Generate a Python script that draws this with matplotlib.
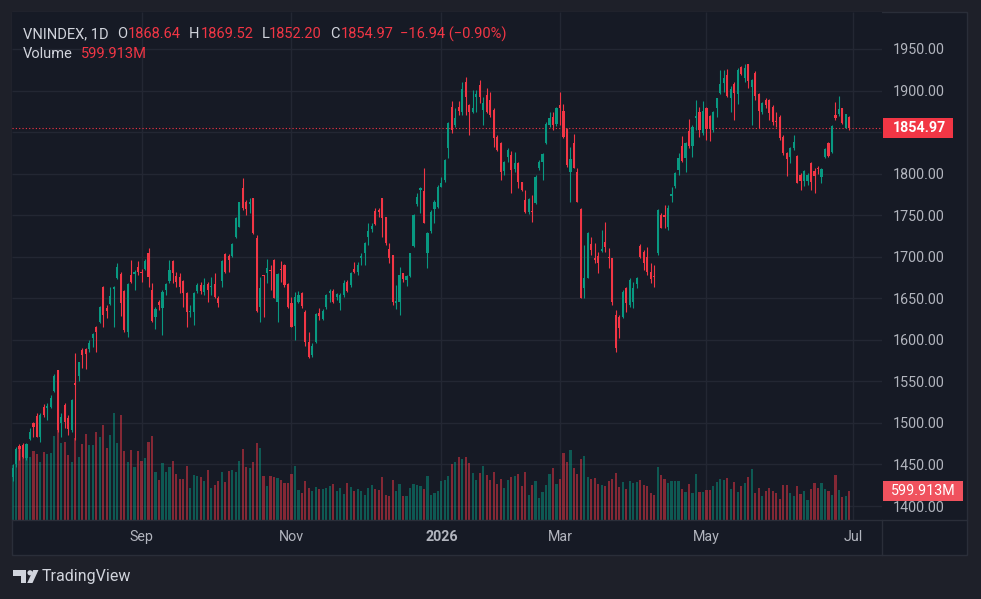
import numpy as np
import pandas as pd
import matplotlib
matplotlib.use("Agg")
import matplotlib.pyplot as plt
import matplotlib.transforms as mtransforms
from matplotlib.patches import Rectangle, Polygon, Circle
from matplotlib.lines import Line2D

plt.rcParams['font.family'] = ['Roboto', 'DejaVu Sans']

# ---------------- data ----------------
symbol = "VNINDEX"
interval = "1D"

opens = [1435, 1450.5, 1472.2, 1473.4, 1457.3, 1480.6, 1499.5, 1508.3, 1483.4, 1519.5,
         1518.3, 1519.5, 1538.8, 1563.6, 1499.5, 1521.5, 1506.3, 1491.4, 1547.6, 1556.4,
         1587.7, 1588.5, 1588.5, 1601.8, 1615, 1621, 1664, 1638.7, 1643.1, 1660.7,
         1674, 1678.8, 1658.7, 1609.8, 1678, 1678.8, 1688, 1682, 1684.8, 1704.1,
         1660, 1627.8, 1645.5, 1637.9, 1659.9, 1670.8, 1695.2, 1676.8, 1675.2, 1670.8,
         1656.7, 1633.4, 1633.9, 1659.1, 1666, 1657.9, 1667.2, 1663.6, 1666.8, 1650.7,
         1670.8, 1702.9, 1701.3, 1700.9, 1724.2, 1736.2, 1782.3, 1765.5, 1763.1, 1770.3,
         1722.1, 1639.9, 1678, 1680, 1684, 1696, 1645.9, 1685.6, 1690, 1666.8,
         1644.7, 1616.6, 1646, 1656.7, 1634, 1597.7, 1581.7, 1597.7, 1632.6, 1624.6,
         1639, 1655.9, 1659.1, 1651.9, 1644.7, 1653.9, 1670, 1665.9, 1684.8, 1682,
         1698, 1704, 1724.1, 1733.7, 1755, 1756.2, 1770.2, 1747.4, 1708.9, 1702,
         1643.9, 1645.9, 1680, 1672, 1677.2, 1712.9, 1763.4, 1780.2, 1779.4, 1704.1,
         1731.3, 1757, 1759.4, 1784.3, 1792.3, 1830.4, 1880.6, 1858.5, 1880.6, 1874.5,
         1910.6, 1882.6, 1873.7, 1892.6, 1906.6, 1876.5, 1894.6, 1888.6, 1876.5, 1844.4,
         1836.4, 1803.1, 1820.4, 1822.4, 1805.5, 1812.4, 1789.5, 1768.2, 1754.2, 1755,
         1764.2, 1806.3, 1814.4, 1836.4, 1858.5, 1868.5, 1859.3, 1882.6, 1875.3, 1853.7,
         1802.3, 1836.4, 1801.5, 1757.4, 1662.8, 1674.8, 1714.9, 1698.1, 1700.9, 1707.3,
         1718.1, 1700.1, 1698.1, 1629.9, 1627.9, 1627.9, 1661.9, 1641.9, 1646, 1666.8,
         1713.3, 1706.1, 1700.1, 1682, 1677.2, 1704.1, 1750.2, 1750.2, 1736.2, 1773.1,
         1785.5, 1804.4, 1833.7, 1818.4, 1851.3, 1833.7, 1867.4, 1873.8, 1848.5, 1879.4,
         1869.8, 1852.5, 1879.4, 1896.7, 1908.7, 1918.7, 1891.4, 1907.5, 1895.5, 1928.8,
         1915.5, 1931.6, 1904.7, 1920.7, 1895.5, 1874.6, 1888.6, 1888.6, 1880.6, 1863.8,
         1868.6, 1844.5, 1824.4, 1820.4, 1831.3, 1821.6, 1798.4, 1791.1, 1791.1, 1812.4,
         1803.2, 1807.2, 1796.4, 1820.4, 1836.5, 1825.6, 1870.6, 1871.4, 1878.6, 1855.3,
         1868.64]

highs = [1450, 1471.4, 1474.6, 1476, 1475.4, 1493.4, 1501.5, 1512.3, 1511.5, 1522.7,
         1523.5, 1533.6, 1558.8, 1563.6, 1511.5, 1523.5, 1509.5, 1528.3, 1583.7, 1573.7,
         1589.7, 1589.7, 1599.8, 1607.8, 1616.6, 1640.7, 1664.7, 1641.9, 1664, 1664.7,
         1692.8, 1682, 1660, 1668, 1696, 1684, 1695.2, 1684.8, 1696.8, 1710.1,
         1668, 1639.9, 1648, 1659.9, 1668.8, 1696, 1696, 1682, 1680, 1672,
         1658, 1641.9, 1658, 1668, 1670, 1674, 1670, 1675.2, 1680, 1652.7,
         1696, 1704.1, 1703.3, 1716.9, 1748.3, 1766.3, 1794.4, 1768.3, 1770.3, 1771.1,
         1726.2, 1676, 1678, 1696.9, 1690, 1696.9, 1680, 1695.3, 1690.9, 1668,
         1651.9, 1658, 1659.1, 1658, 1636, 1609.8, 1595.7, 1631.8, 1637.8, 1636.6,
         1655, 1660.7, 1660.7, 1656.7, 1656.7, 1672, 1672, 1682, 1694, 1694,
         1704, 1718.1, 1740.2, 1740.2, 1758.2, 1758.2, 1771, 1748.2, 1716.9, 1702,
         1665.9, 1688, 1680.8, 1678, 1705, 1751, 1776.2, 1784.3, 1806.4, 1730,
         1756.2, 1768.2, 1786.3, 1796.4, 1818, 1862.5, 1887.4, 1878.5, 1887.4, 1910.6,
         1916.7, 1883.4, 1900.6, 1900.6, 1912.6, 1892.6, 1903.4, 1897.8, 1878.5, 1846.5,
         1838.4, 1815.2, 1830.4, 1827.2, 1825.6, 1813.6, 1790.3, 1780.3, 1770.2, 1774.2,
         1798.3, 1816.4, 1824.4, 1862.5, 1874.5, 1874.5, 1880.6, 1898.6, 1883.4, 1854.5,
         1832.4, 1847.3, 1806.3, 1758.2, 1714.1, 1730.2, 1724.1, 1716.1, 1706.1, 1732.2,
         1742.2, 1710.1, 1698.9, 1635.9, 1629.9, 1659.9, 1663.9, 1674, 1670, 1676,
         1714.9, 1708.1, 1712.1, 1692.1, 1690.1, 1757.4, 1752.2, 1762.3, 1762.3, 1784.3,
         1801.6, 1824.4, 1845.7, 1837.7, 1865.8, 1858.5, 1888.6, 1880.6, 1887.4, 1880.6,
         1870.6, 1875.4, 1891.4, 1924.7, 1924.7, 1926, 1905.9, 1910.7, 1926.8, 1930,
         1931.6, 1931.6, 1913.9, 1923.5, 1896.7, 1886.6, 1890.6, 1889.8, 1882.6, 1874.6,
         1870.6, 1846.5, 1826.5, 1832.5, 1846.5, 1822.4, 1800.4, 1804.4, 1800.4, 1813.6,
         1806.4, 1809.6, 1807.2, 1830.5, 1837.7, 1858.5, 1885.8, 1893.9, 1879.4, 1871.9,
         1869.52]

lows = [1430, 1447.3, 1455.3, 1457.3, 1455.3, 1479.4, 1483.4, 1482.6, 1477.4, 1507.5,
        1503.5, 1517.5, 1537.6, 1489.4, 1483.4, 1493.4, 1485.4, 1489.4, 1479.4, 1550.8,
        1565.7, 1565.3, 1585.7, 1591.7, 1585.7, 1619.8, 1615, 1625.8, 1641.9, 1615,
        1672.8, 1628.6, 1609.8, 1603.8, 1668, 1660, 1678, 1670, 1684, 1664,
        1621.8, 1612.6, 1636, 1605.8, 1653.9, 1668.8, 1668, 1664, 1656, 1640,
        1615.8, 1627.8, 1617.8, 1656, 1655.1, 1653.9, 1645.9, 1653.9, 1649.9, 1639.1,
        1664, 1680.8, 1681.2, 1700, 1722.1, 1735.4, 1756.3, 1750.2, 1752.2, 1727.4,
        1633.9, 1621.9, 1627.9, 1668, 1660, 1649.9, 1621.9, 1670, 1664, 1637.9,
        1615, 1599.8, 1643.9, 1637.9, 1593, 1577.7, 1578.9, 1595.7, 1623.8, 1623.8,
        1637, 1645.9, 1643.9, 1647.9, 1635.9, 1651.9, 1657, 1663.9, 1680.8, 1678,
        1690, 1690, 1714.1, 1730, 1738.2, 1748.2, 1724.1, 1714.1, 1692.8, 1641.9,
        1636.6, 1629.8, 1670, 1665, 1676, 1712.1, 1761, 1752.2, 1740.2, 1686,
        1728.2, 1740.2, 1758.2, 1783.5, 1790, 1819.2, 1848.5, 1856.5, 1870.5, 1870.5,
        1870.5, 1846.5, 1872.5, 1874.5, 1884.6, 1858.5, 1872.5, 1868.5, 1832.4, 1827.2,
        1792.3, 1798.3, 1814.4, 1776.3, 1802.3, 1782.3, 1779.1, 1752.2, 1750.9, 1741.3,
        1763, 1804.3, 1792.3, 1835.2, 1856.5, 1852.5, 1857.7, 1858.5, 1842.4, 1808.3,
        1766.2, 1806.3, 1765.4, 1649.9, 1650, 1674, 1702.1, 1692.1, 1680, 1706.1,
        1706.1, 1686, 1641.9, 1585.7, 1601.8, 1625.9, 1633.9, 1639.9, 1637.9, 1662.8,
        1698.1, 1684, 1678, 1668, 1664, 1702.1, 1734.2, 1734.2, 1732.2, 1766.3,
        1783.1, 1798.4, 1813.6, 1802.4, 1830.5, 1820.4, 1852.5, 1844.5, 1846.5, 1840.5,
        1839.3, 1849.7, 1868.6, 1895.5, 1898.7, 1892.6, 1874.6, 1864.6, 1883.4, 1918.7,
        1910.7, 1902.7, 1858.5, 1888.6, 1854.5, 1871.4, 1878.6, 1864.6, 1858.5, 1856.5,
        1840.5, 1822.4, 1797.6, 1812.4, 1828.5, 1788.3, 1780.3, 1785.5, 1786.3, 1780.3,
        1776.3, 1799.2, 1788.3, 1819.2, 1820.4, 1824.4, 1864.6, 1869.8, 1859.4, 1854.5,
        1852.20]

closes = [1446, 1468.2, 1468.2, 1459.3, 1474.6, 1489.4, 1495.5, 1483.4, 1509.5, 1509.5,
          1520.7, 1530.3, 1556.8, 1491.4, 1507.5, 1501.5, 1492.2, 1527.5, 1545.2, 1572.9,
          1581.7, 1582.9, 1596.5, 1606.6, 1609.8, 1639.9, 1629.9, 1635.1, 1653.1, 1663.2,
          1687.2, 1643.9, 1611.8, 1666.8, 1670, 1681.2, 1681.2, 1680, 1695.2, 1676,
          1623, 1636.7, 1642.5, 1657.9, 1666.8, 1684, 1680, 1670, 1664, 1656,
          1633.9, 1635.1, 1656.7, 1666, 1659.1, 1666, 1660, 1664.7, 1651.1, 1644.7,
          1694.8, 1682, 1696, 1715.3, 1746.2, 1765.5, 1758.3, 1757.1, 1766.3, 1729,
          1635.1, 1661.9, 1676.8, 1686.8, 1683, 1649.9, 1679.2, 1684, 1666, 1639.1,
          1615.8, 1651.9, 1654, 1640.7, 1597.7, 1579.5, 1592.5, 1631, 1628.6, 1635,
          1653.9, 1659.1, 1645.9, 1655.1, 1653.9, 1667.9, 1659.1, 1680, 1682, 1690,
          1700.8, 1716.9, 1730.9, 1737, 1739.4, 1753.4, 1746.2, 1716.1, 1698, 1645.9,
          1646.3, 1678, 1672.8, 1676.8, 1704.1, 1750.2, 1772.2, 1782.2, 1740.9, 1728.9,
          1754.2, 1766.2, 1784.3, 1788.3, 1816.4, 1860.5, 1852.5, 1867.3, 1875.3, 1901.8,
          1892.6, 1874.5, 1878.5, 1895.4, 1892.6, 1884.6, 1874.5, 1870.5, 1842.4, 1828.4,
          1801.5, 1813.6, 1828.4, 1804.3, 1812.4, 1790.3, 1780.3, 1754.2, 1769.4, 1753.4,
          1796.3, 1813.6, 1823.2, 1859.3, 1867.3, 1858.5, 1878.5, 1878.5, 1844.4, 1810.4,
          1817.6, 1807.1, 1766.2, 1650.7, 1674.8, 1728.2, 1708.1, 1696.1, 1692.1, 1708.9,
          1712.1, 1698.1, 1645.1, 1589.7, 1613.8, 1657.9, 1643.9, 1672, 1661.9, 1674.8,
          1700.1, 1692.1, 1682, 1673.2, 1676, 1756.2, 1735, 1748.2, 1759, 1775.1,
          1800.4, 1819.2, 1815.2, 1836.5, 1833.7, 1856.5, 1869.4, 1852.5, 1875.4, 1853.7,
          1853.7, 1874.6, 1890.6, 1907.5, 1915.5, 1893.8, 1901.9, 1896.7, 1924.7, 1919.5,
          1926.8, 1911.5, 1912.7, 1893.8, 1875.4, 1885.4, 1882.6, 1872.6, 1862.6, 1861.8,
          1842.5, 1824.4, 1817.6, 1830.5, 1838.3, 1789.1, 1791.1, 1803.2, 1798.4, 1789.5,
          1797.6, 1805.6, 1805.2, 1829.3, 1821.6, 1857.7, 1867.4, 1877.8, 1860.6, 1871.91,
          1854.97]

volumes_m = [1138, 1186, 1517, 1483, 1379, 1296, 1434, 1365, 1193, 1414,
             1365, 1379, 1738, 1862, 1600, 1621, 1345, 1200, 1690, 1310,
             1565, 1779, 1552, 1552, 1821, 1710, 1965, 1496, 1758, 2220,
             1586, 2172, 1434, 1207, 1448, 1090, 1434, 1227, 1276, 1621,
             1738, 993, 828, 1172, 993, 1103, 1221, 952, 848, 848,
             1117, 655, 931, 910, 896, 807, 1034, 669, 724, 807,
             993, 793, 1021, 1034, 993, 1221, 1469, 1103, 1083, 1200,
             1600, 1496, 910, 710, 910, 896, 862, 828, 772, 772,
             945, 1117, 621, 552, 807, 669, 600, 683, 641, 641,
             669, 703, 745, 600, 655, 538, 772, 690, 600, 641,
             607, 517, 655, 724, 641, 621, 883, 517, 496, 827,
             600, 745, 496, 496, 655, 745, 724, 710, 641, 910,
             517, 565, 600, 807, 827, 910, 1151, 1200, 1296, 1262,
             1303, 1186, 965, 827, 979, 1117, 931, 827, 986, 745,
             841, 655, 827, 896, 910, 952, 703, 993, 517, 717,
             807, 448, 586, 724, 952, 1069, 745, 841, 1393, 1207,
             1448, 1069, 952, 1255, 1324, 896, 848, 862, 745, 724,
             703, 807, 841, 979, 690, 786, 641, 807, 758, 793,
             827, 724, 703, 565, 517, 1103, 931, 841, 772, 807,
             807, 807, 641, 586, 745, 552, 952, 586, 572, 621,
             621, 703, 793, 848, 827, 862, 641, 793, 586, 703,
             772, 896, 1048, 552, 669, 496, 607, 655, 600, 565,
             434, 724, 724, 552, 496, 703, 538, 600, 414, 641,
             772, 669, 772, 641, 600, 517, 931, 621, 483, 496,
             599.913]

holidays = ["2025-09-01", "2025-09-02", "2026-01-01",
            "2026-02-13", "2026-02-16", "2026-02-17", "2026-02-18", "2026-02-19",
            "2026-02-20", "2026-02-23", "2026-04-27", "2026-04-30", "2026-05-01"]
first_day, last_day = "2025-07-10", "2026-06-30"

tick_months = ["2025-09-01", "2025-11-01", "2026-01-01", "2026-03-01", "2026-05-01", "2026-07-01"]
tick_labels = ["Sep", "Nov", "2026", "Mar", "May", "Jul"]
price_ticks = np.arange(1400, 1951, 50)

# ---------------- styling ----------------
W, H = 981, 599
BG_OUT = "#1e2029"
BG_PANE = "#161a25"
GRID = "#232733"
BORDER = "#2a2e39"
UP = "#089981"
DOWN = "#f23645"
TXT = "#b2b5be"
LEG = "#d1d4dc"

dates = pd.bdate_range(first_day, last_day)
dates = dates[~dates.isin(pd.to_datetime(holidays))]
O = np.array(opens); Hh = np.array(highs); L = np.array(lows); C = np.array(closes)
V = np.array(volumes_m)
n = len(C)
x = np.arange(n)
tick_pos = np.searchsorted(dates.values, pd.to_datetime(tick_months).values)

fig = plt.figure(figsize=(W / 100, H / 100), dpi=100)
fig.patch.set_facecolor(BG_OUT)

def fx(px):
    return px / W

def fy(py):
    return 1 - py / H

# chart frame
fig.patches.append(Rectangle((fx(12), fy(555)), fx(967) - fx(12), fy(12) - fy(555),
                             transform=fig.transFigure, facecolor=BG_PANE,
                             edgecolor=BORDER, linewidth=1, zorder=0))
fig.lines.append(Line2D([fx(12), fx(967)], [fy(520), fy(520)], transform=fig.transFigure,
                        color=BORDER, linewidth=1))
fig.lines.append(Line2D([fx(882), fx(882)], [fy(520), fy(555)], transform=fig.transFigure,
                        color=BORDER, linewidth=1))

rect = [fx(12), fy(520), fx(882) - fx(12), fy(12) - fy(520)]
ax_v = fig.add_axes(rect, zorder=1)
ax = fig.add_axes(rect, zorder=2)

bar_px = 3.487
first_px = 12.51
xlim = ((12 - first_px) / bar_px, (882 - first_px) / bar_px)
ylim = (1383.2, 1994.5)

for a in (ax, ax_v):
    a.set_xlim(*xlim)
    for s in a.spines.values():
        s.set_visible(False)
ax.set_ylim(*ylim)
ax.patch.set_visible(False)
ax_v.set_facecolor(BG_PANE)
ax_v.set_ylim(0, V.max() / 0.211)
ax_v.set_xticks([]); ax_v.set_yticks([])

# grid (drawn beneath volume & candles)
blend = mtransforms.blended_transform_factory(ax_v.transAxes, ax.transData)
ax_v.hlines(price_ticks, 0, 1, transform=blend, color=GRID, linewidth=1, zorder=0)
ax_v.vlines(tick_pos, 0, 1, transform=ax_v.get_xaxis_transform(), color=GRID,
            linewidth=1, zorder=0)

up = C >= O
col = np.where(up, UP, DOWN)

# volume
ax_v.bar(x, V, width=0.62, color=col, alpha=0.5, linewidth=0, zorder=2)

# candles
ax.vlines(x, L, Hh, colors=col, linewidth=0.8, zorder=3)
body_lo = np.minimum(O, C)
body_h = np.maximum(np.abs(C - O), 1.1)
ax.bar(x, body_h, bottom=body_lo, width=0.62, color=col, linewidth=0, zorder=4)

# last price line
ax.axhline(C[-1], color=DOWN, linewidth=0.8, linestyle=(0, (1, 2)), zorder=2)

# axes ticks (labels hidden where the last-price tag covers them, as on TradingView)
px_per_price = 508 / (ylim[1] - ylim[0])
ytick_labels = ["" if abs(v - C[-1]) * px_per_price < 16 else f"{v:.2f}" for v in price_ticks]
ax.yaxis.tick_right()
ax.set_yticks(price_ticks)
ax.set_yticklabels(ytick_labels)
ax.tick_params(axis="y", length=0, pad=8, labelsize=10.3, labelcolor=TXT)
ax.set_xticks(tick_pos)
ax.set_xticklabels(tick_labels)
ax.tick_params(axis="x", length=0, pad=7, labelsize=10.3, labelcolor=TXT)
for lab in ax.get_xticklabels():
    if lab.get_text().isdigit():
        lab.set_fontweight("bold")

# price tag boxes
fig.canvas.draw()
ident = mtransforms.IdentityTransform()
y_last = ax.transData.transform((0, C[-1]))[1]
fig.patches.append(Rectangle((883, y_last - 10), 70, 20, transform=ident,
                             facecolor=DOWN, edgecolor="none", zorder=5))
fig.text(fx(893), y_last / H, f"{C[-1]:.2f}", color="white", fontsize=10.3,
         fontweight="bold", va="center", ha="left", zorder=6)
y_vol = ax_v.transData.transform((0, V[-1]))[1]
fig.patches.append(Rectangle((883, y_vol - 10), 80, 20, transform=ident,
                             facecolor="#f0525e", edgecolor="none", zorder=5))
fig.text(fx(891), y_vol / H, f"{V[-1]:.3f}M", color="white", fontsize=10.3,
         va="center", ha="left", zorder=6)

# legend header
chg = C[-1] - C[-2]
pct = chg / C[-2] * 100
def fmt_signed(v):
    return f"{v:.2f}".replace("-", "\u2212")
pieces = [
    (f"{symbol}, {interval}", 23, LEG),
    ("O", 117, LEG), (f"{O[-1]:.2f}", 127.5, DOWN),
    ("H", 189, LEG), (f"{Hh[-1]:.2f}", 200.5, DOWN),
    ("L", 262, LEG), (f"{L[-1]:.2f}", 268.6, DOWN),
    ("C", 330, LEG), (f"{C[-1]:.2f}", 340.4, DOWN),
    (f"{fmt_signed(chg)} ({fmt_signed(pct)}%)", 400, DOWN),
]
for txt, px_, c in pieces:
    fig.text(fx(px_), fy(34), txt, color=c, fontsize=10.5, va="center", ha="left")
fig.text(fx(23), fy(54), "Volume", color=LEG, fontsize=10.5, va="center", ha="left")
fig.text(fx(81.4), fy(54), f"{V[-1]:.3f}M", color=DOWN, fontsize=10.5, va="center", ha="left")

# TradingView logo
logo_c = "#d1d4dc"
fig.patches.append(Polygon([(13, 599 - 570), (26, 599 - 570), (26, 599 - 583), (20.5, 599 - 583),
                            (20.5, 599 - 575.5), (13, 599 - 575.5)], closed=True,
                           transform=ident, facecolor=logo_c, edgecolor="none"))
fig.patches.append(Circle((30, 599 - 572.8), 2.6, transform=ident, facecolor=logo_c,
                          edgecolor="none"))
fig.patches.append(Polygon([(33.2, 599 - 570), (38.5, 599 - 570), (32.5, 599 - 583),
                            (27.2, 599 - 583)], closed=True, transform=ident,
                           facecolor=logo_c, edgecolor="none"))
fig.text(fx(41.5), fy(577), "TradingView", color=logo_c, fontsize=11.5, va="center",
         ha="left")

fig.savefig("out.png", dpi=100, facecolor=fig.get_facecolor())
